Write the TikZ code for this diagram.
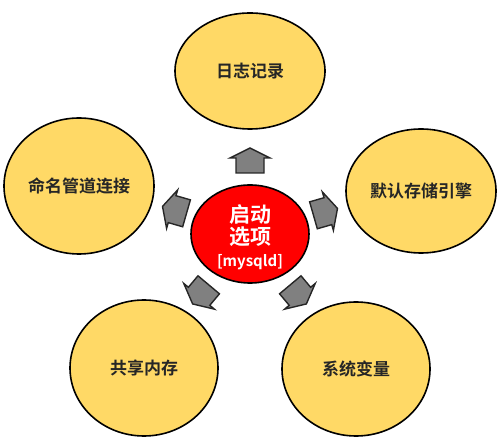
\documentclass[tikz,border=0pt]{standalone}
\usepackage{fontspec}
\usetikzlibrary{shapes.geometric}
\newfontfamily\cjk{Noto Sans CJK SC}[BoldFont={Noto Sans CJK SC Bold}]
\definecolor{bubble}{RGB}{255,217,102}
\definecolor{arrowgray}{RGB}{128,128,128}
\begin{document}
\begin{tikzpicture}[x=1pt,y=1pt,
  outer/.style={ellipse,draw=black,line width=1.6pt,fill=bubble,minimum width=150pt,minimum height=130pt,inner sep=0pt,font=\cjk\bfseries\fontsize{17}{20}\selectfont,text=black!85},
  hub/.style={ellipse,draw=black,line width=1.6pt,fill=red,minimum width=118pt,minimum height=98pt,inner sep=0pt,text=white,align=center},
  blockarrow/.style={draw=black!85,line width=1.4pt,fill=arrowgray,line join=miter}]
\useasboundingbox (0,0) rectangle (502,441);
\node[hub] (c) at (250,207) {};
\node[text=white,font=\cjk\bfseries\fontsize{21}{23}\selectfont] (c1) at (250,226) {启动};
\node[text=white,font=\cjk\bfseries\fontsize{21}{23}\selectfont] (c2) at (250,204) {选项};
\node[text=white,font=\cjk\bfseries\fontsize{15}{17}\selectfont] (c3) at (250,179) {[mysqld]};
\node[outer,minimum height=116pt] (top) at (250,370) {日志记录};
\node[outer,minimum height=124pt] (ru) at (421,250) {默认存储引擎};
\node[outer,minimum height=136pt] (lu) at (79,255) {命名管道连接};
\node[outer,minimum width=148pt,minimum height=136pt] (bl) at (144,73) {共享内存};
\node[outer,minimum width=148pt,minimum height=134pt] (br) at (356,72) {系统变量};
\foreach \x/\y/\a in {250/280/90, 325/229/16, 175/231/164, 201/147/230, 298/147/310}{
  \draw[blockarrow,shift={(\x,\y)},rotate=\a] (-12,-14) -- (3,-14) -- (3,-20) -- (13,0) -- (3,20) -- (3,14) -- (-12,14) -- cycle;
}
\end{tikzpicture}
\end{document}
